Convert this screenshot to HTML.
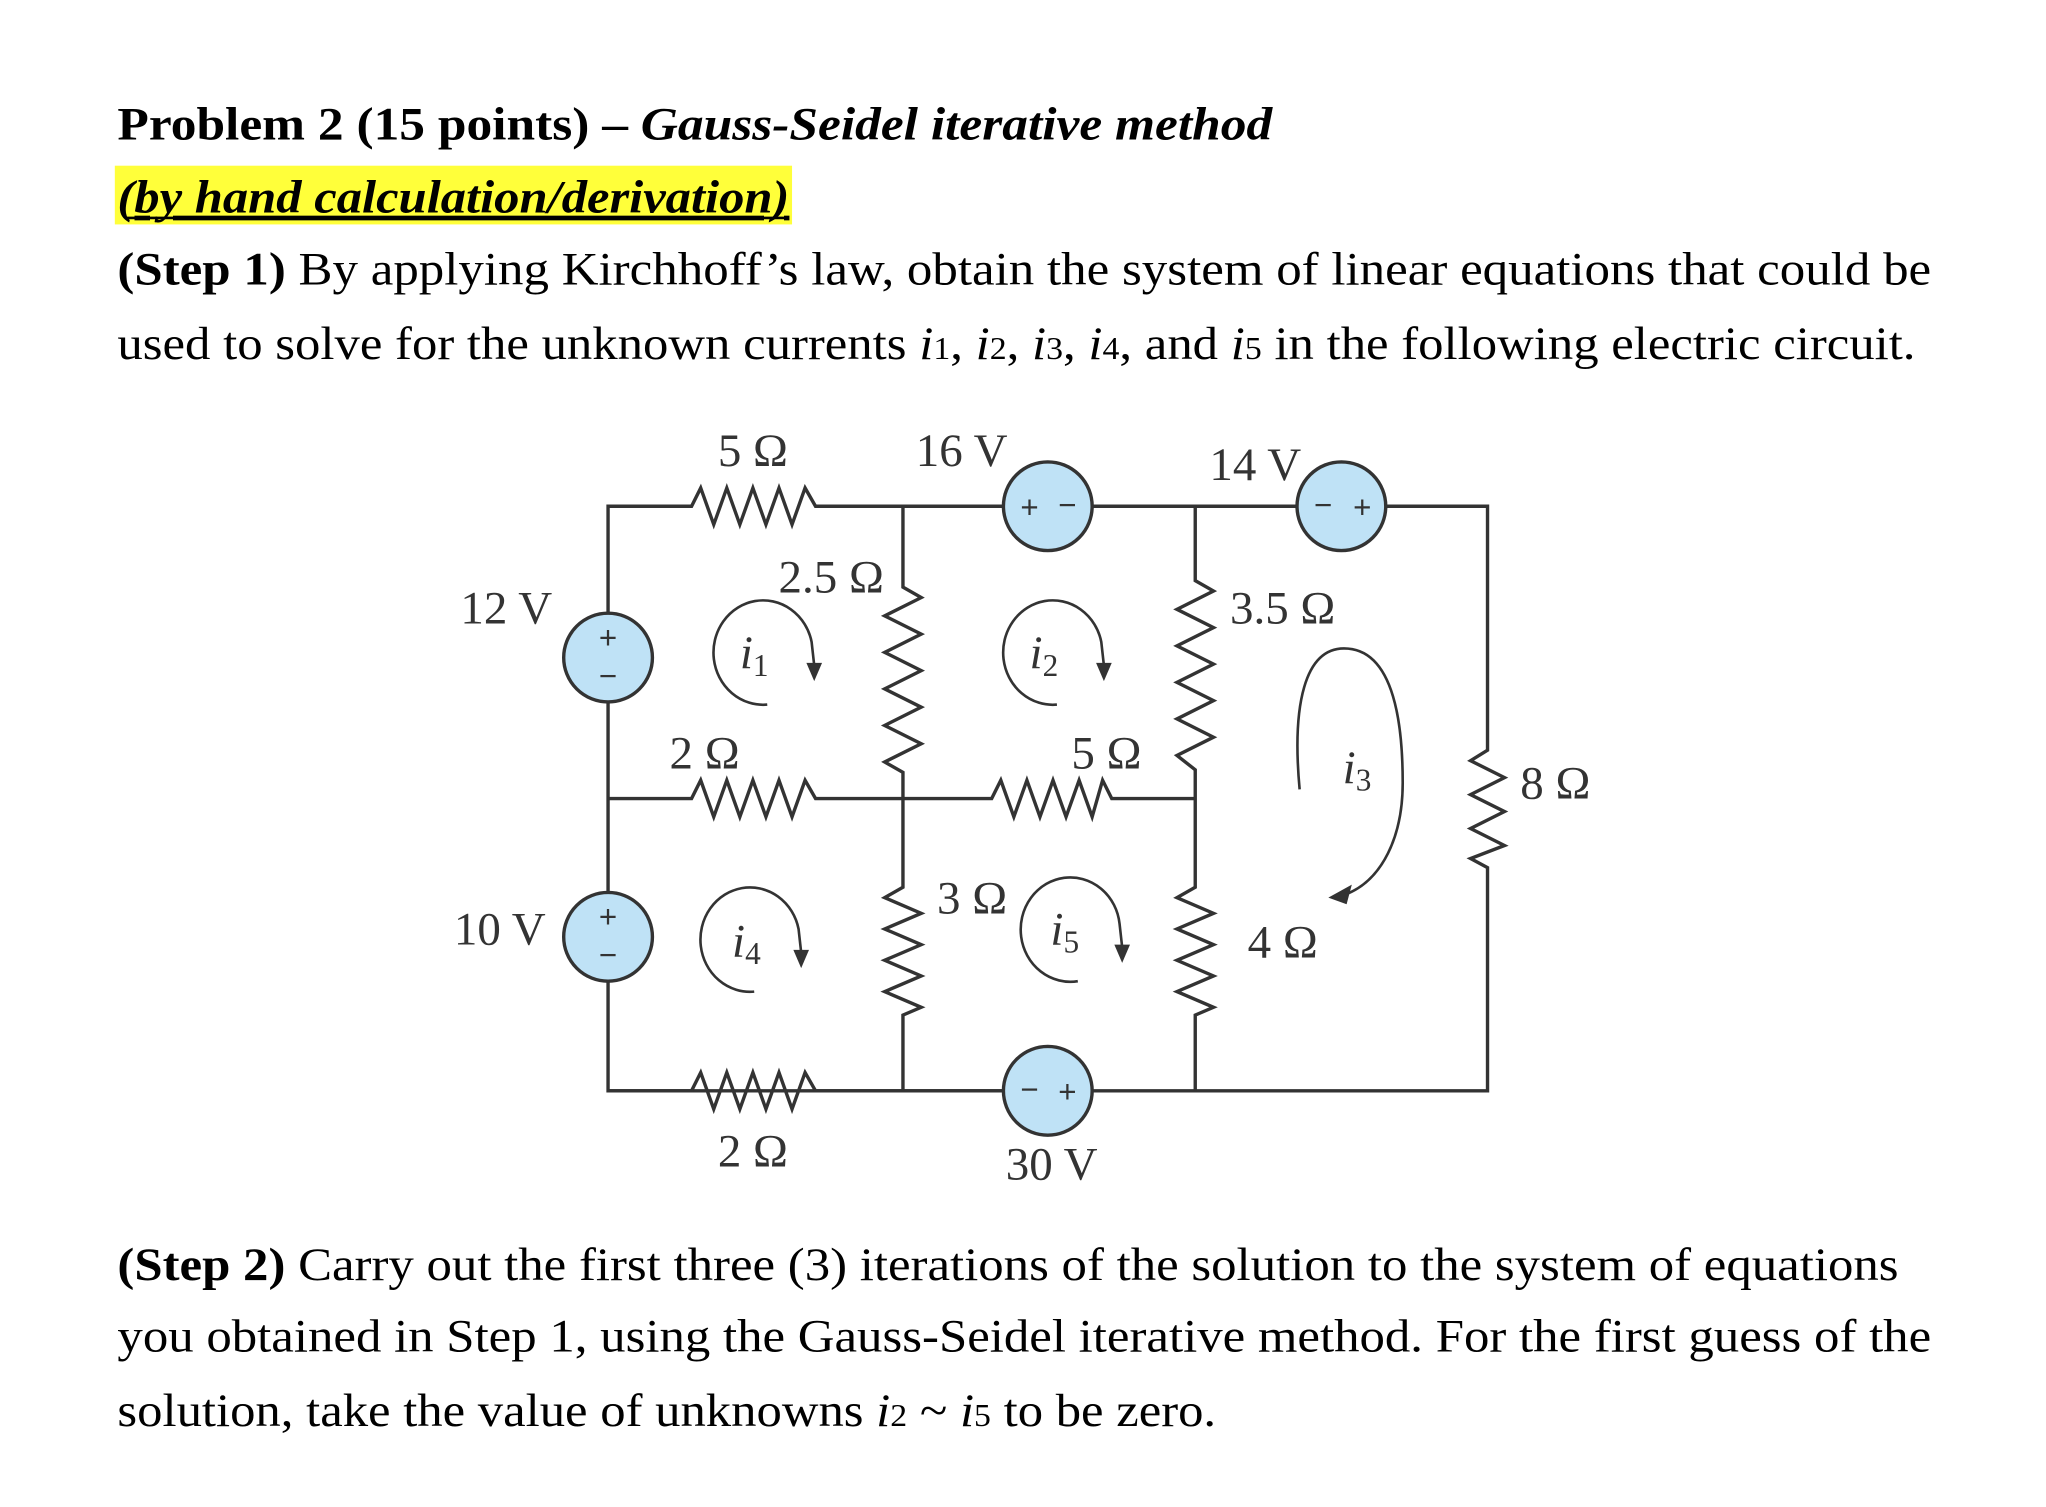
<!DOCTYPE html>
<html><head><meta charset="utf-8"><style>html,body{margin:0;padding:0;background:#fff}svg{display:block}</style></head>
<body>
<svg width="2046" height="1507" viewBox="0 0 1568 1155" preserveAspectRatio="none" xmlns="http://www.w3.org/2000/svg" font-family="'Liberation Serif', serif">
<rect width="1568" height="1155" fill="#fff"/>
<rect x="88" y="127" width="519" height="45" fill="#ffff3a"/>
<text x="90" y="107" font-size="36" font-weight="bold" textLength="885" lengthAdjust="spacingAndGlyphs">Problem 2  (15 points) – <tspan font-style="italic">Gauss-Seidel iterative method</tspan></text>
<text x="90" y="163" font-size="36" font-weight="bold" font-style="italic" text-decoration="underline" textLength="515" lengthAdjust="spacingAndGlyphs">(by hand calculation/derivation)</text>
<line x1="96" y1="167" x2="603" y2="167" stroke="#000" stroke-width="2"/>
<text x="90" y="218" font-size="36" textLength="1390" lengthAdjust="spacingAndGlyphs"><tspan font-weight="bold">(Step 1)</tspan> By applying Kirchhoff’s law, obtain the system of linear equations that could be</text>
<text x="90" y="275" font-size="36" textLength="1378" lengthAdjust="spacingAndGlyphs">used to solve for the unknown currents <tspan font-style="italic">i</tspan><tspan font-size="24">1</tspan>, <tspan font-style="italic">i</tspan><tspan font-size="24">2</tspan>, <tspan font-style="italic">i</tspan><tspan font-size="24">3</tspan>, <tspan font-style="italic">i</tspan><tspan font-size="24">4</tspan>, and <tspan font-style="italic">i</tspan><tspan font-size="24">5</tspan> in the following electric circuit.</text>
<text x="90" y="981" font-size="36" textLength="1365" lengthAdjust="spacingAndGlyphs"><tspan font-weight="bold">(Step 2)</tspan> Carry out the first three (3) iterations of the solution to the system of equations</text>
<text x="90" y="1036" font-size="36" textLength="1390" lengthAdjust="spacingAndGlyphs">you obtained in Step 1, using the Gauss-Seidel iterative method. For the first guess of the</text>
<text x="90" y="1093" font-size="36" textLength="842" lengthAdjust="spacingAndGlyphs">solution, take the value of unknowns <tspan font-style="italic">i</tspan><tspan font-size="24">2</tspan> ~ <tspan font-style="italic">i</tspan><tspan font-size="24">5</tspan> to be zero.</text>

<g stroke="#333" stroke-width="2.6" fill="none" stroke-linejoin="miter">
<polyline points="466,470 466,388 530,388 537,374 547,402 557,374 567,402 577,374 587,402 597,374 607,402 617,374 625,388 769,388"/>
<line x1="837" y1="388" x2="994" y2="388"/>
<polyline points="1062,388 1140,388 1140,575 1127,583 1153,596 1127,609 1153,622 1127,635 1153,648 1127,658 1140,665 1140,836 466,836 466,752"/>
<line x1="466" y1="538" x2="466" y2="684"/>
<polyline points="466,612 530,612 537,598 547,626 557,598 567,626 577,598 587,626 597,598 607,626 617,598 625,612 760,612 767,598 777,626 787,598 797,626 807,598 817,626 827,598 837,626 845,598 852,612 916,612"/>
<polyline points="466,836 530,836 537,822 547,850 557,822 567,850 577,822 587,850 597,822 607,850 617,822 625,836 769,836"/>
<polyline points="692,388 692,450 706,458 678,472 706,486 678,500 706,514 678,528 706,542 678,556 706,570 678,584 692,592 692,680 678,688 706,700 678,712 706,724 678,736 706,748 678,760 706,772 692,778 692,836"/>
<polyline points="916,388 916,445 930,453 902,467 930,481 902,495 930,509 902,523 930,537 902,551 930,565 902,579 916,590 916,680 902,688 930,700 902,712 930,724 902,736 930,748 902,760 930,772 916,778 916,836"/>
</g>
<g stroke="#333" stroke-width="2.6" fill="#bfe2f6">
<circle cx="803" cy="388" r="34"/><circle cx="1028" cy="388" r="34"/>
<circle cx="466" cy="504" r="34"/><circle cx="466" cy="718" r="34"/>
<circle cx="803" cy="836" r="34"/>
</g>
<g font-size="24" fill="#333" text-anchor="middle" font-family="'Liberation Sans', sans-serif">
<text x="789" y="397">+</text><text x="818" y="395">−</text>
<text x="1014" y="395">−</text><text x="1044" y="397">+</text>
<text x="466" y="497">+</text><text x="466" y="526">−</text>
<text x="466" y="711">+</text><text x="466" y="740">−</text>
<text x="789" y="843">−</text><text x="818" y="845">+</text>
</g>
<g font-size="36" fill="#333" text-anchor="middle">
<text x="577" y="357">5 Ω</text><text x="737" y="357">16 V</text><text x="962" y="368">14 V</text>
<text x="388" y="478">12 V</text><text x="637" y="454">2.5 Ω</text><text x="983" y="478">3.5 Ω</text>
<text x="540" y="589">2 Ω</text><text x="848" y="589">5 Ω</text><text x="1192" y="612">8 Ω</text>
<text x="745" y="700">3 Ω</text><text x="983" y="734">4 Ω</text><text x="383" y="724">10 V</text>
<text x="577" y="894">2 Ω</text><text x="806" y="904">30 V</text>
<g font-style="italic"><text x="578" y="512">i<tspan font-size="24" font-style="normal" dy="6">1</tspan></text>
<text x="800" y="512">i<tspan font-size="24" font-style="normal" dy="6">2</tspan></text>
<text x="1040" y="600">i<tspan font-size="24" font-style="normal" dy="6">3</tspan></text>
<text x="572" y="733">i<tspan font-size="24" font-style="normal" dy="6">4</tspan></text>
<text x="816" y="724">i<tspan font-size="24" font-style="normal" dy="6">5</tspan></text></g>
</g>
<g stroke="#333" stroke-width="2" fill="none">
<path d="M588 540 A38 40 0 1 1 622 492 L624 510"/>
<path d="M810 540 A38 40 0 1 1 844 492 L846 510"/>
<path d="M578 760 A38 40 0 1 1 612 712 L614 730"/>
<path d="M826 752 A38 40 0 1 1 858 708 L860 726"/>
<path d="M996 605 C990 540 1000 497 1030 497 C1070 497 1075 560 1075 600 C1075 640 1060 675 1030 686"/>
</g>
<g fill="#333">
<path d="M618 508 L630 508 L624 522 Z"/>
<path d="M840 508 L852 508 L846 522 Z"/>
<path d="M608 728 L620 728 L614 742 Z"/>
<path d="M854 724 L866 724 L860 738 Z"/>
<path d="M1018 688 L1036 678 L1032 693 Z"/>
</g>
</svg>
</body></html>
